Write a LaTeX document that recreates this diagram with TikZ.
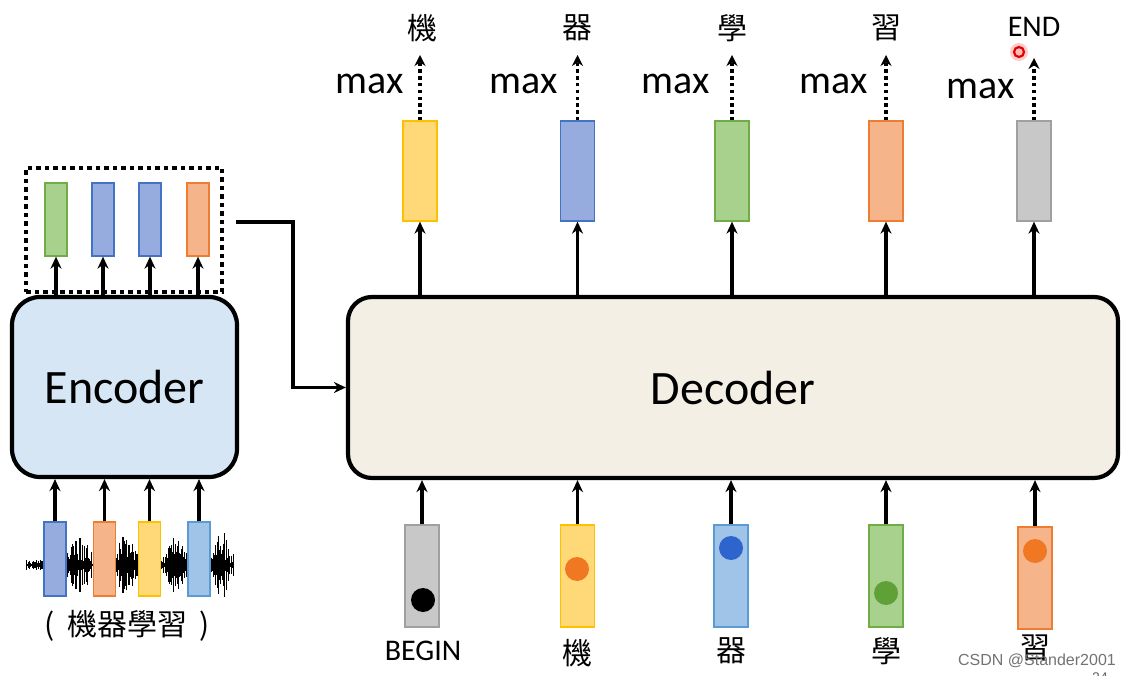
\documentclass[tikz,border=0pt]{standalone}
\usepackage{fontspec}
\setmainfont{Carlito}
\newfontfamily\cjk{Noto Sans CJK TC}
\newfontfamily\wmfont{Liberation Sans}
\usetikzlibrary{arrows.meta,calc}
\definecolor{gF}{RGB}{169,209,142}\definecolor{gD}{RGB}{112,173,71}
\definecolor{bF}{RGB}{150,172,222}\definecolor{bD}{RGB}{68,114,196}
\definecolor{oF}{RGB}{246,180,138}\definecolor{oD}{RGB}{237,125,49}
\definecolor{yF}{RGB}{255,217,120}\definecolor{yD}{RGB}{255,192,0}
\definecolor{kF}{RGB}{200,200,200}\definecolor{kD}{RGB}{160,160,160}
\definecolor{lF}{RGB}{160,196,232}\definecolor{lD}{RGB}{91,155,213}
\definecolor{encF}{RGB}{214,230,245}\definecolor{decF}{RGB}{244,239,228}
\definecolor{dotO}{RGB}{240,120,35}\definecolor{dotB}{RGB}{45,100,205}
\definecolor{dotG}{RGB}{95,160,55}
\tikzset{
  arr/.style={line width=3.6pt,-{Stealth[length=12pt,width=11pt]}},
  dotarr/.style={line width=3.4pt,dash pattern=on 3.4pt off 3.4pt,-{Stealth[length=11pt,width=11pt]}},
  bigbox/.style={draw,line width=4.2pt,rounded corners=28pt,inner sep=0pt,font=\fontsize{48}{50}\selectfont},
  bar/.style={draw=#1D,fill=#1F,line width=1.3pt,inner sep=0pt,minimum width=34pt,minimum height=100pt},
  sbar/.style={draw=#1D,fill=#1F,line width=1.3pt,inner sep=0pt,minimum width=22pt,minimum height=74pt},
  ebar/.style={draw=#1D,fill=#1F,line width=1.3pt,inner sep=0pt,minimum width=22pt,minimum height=73pt},
  dot/.style={circle,fill=#1,inner sep=0pt,minimum size=24pt},
  cjklab/.style={font=\cjk\fontsize{30}{32}\selectfont,inner sep=0pt},
  latlab/.style={font=\fontsize{30}{32}\selectfont,inner sep=0pt},
  maxlab/.style={font=\fontsize{40}{42}\selectfont,inner sep=0pt},
}
\begin{document}
\begin{tikzpicture}[x=1pt,y=-1pt]
\useasboundingbox[fill=white] (0,0) rectangle (1132,676);
% boxes
\node[bigbox,fill=encF,minimum width=225pt,minimum height=180pt] (enc) at (124.5,387) {Encoder};
\node[bigbox,fill=decF,minimum width=770pt,minimum height=181pt,rounded corners=24pt] (dec) at (733,387.5) {Decoder};
% encoder outputs
\node[draw,line width=4.5pt,dash pattern=on 4.5pt off 4pt,minimum width=196pt,minimum height=124pt,inner sep=0pt] (eobox) at (124,230) {};
\node[ebar=g] (eo1) at (56,219.5) {};
\node[ebar=b] (eo2) at (103,219.5) {};
\node[ebar=b] (eo3) at (150,219.5) {};
\node[ebar=o] (eo4) at (198,219.5) {};
\foreach \i in {1,...,4}{\draw[arr] (enc.north -| eo\i) -- (eo\i.south);}
\coordinate (c1) at (236,222);
\coordinate (bend) at (293,222);
\draw[arr] (c1) -- (bend) |- (dec.west);
% waveform
\pgfmathsetseed{5}
\draw[line width=1.6pt] (26,565) -- (234,565);
\foreach \x in {26,26.7,...,234}{
  \pgfmathsetmacro\env{0.22+exp(-((\x-80)/11)^2)+1.1*exp(-((\x-126)/9)^2)+0.9*exp(-((\x-176)/10)^2)+1.1*exp(-((\x-222)/9)^2)+0.6*exp(-((\x-100)/6)^2)}
  \pgfmathsetmacro\a{(1.5+24*rnd)*\env}
  \draw[line width=0.9pt] (\x,565-\a) -- (\x,565+\a);
}
\node[sbar=b] (ei1) at (55,559) {};
\node[sbar=o] (ei2) at (104.5,559) {};
\node[sbar=y] (ei3) at (149.5,559) {};
\node[sbar=l] (ei4) at (199,559) {};
\foreach \i in {1,...,4}{\draw[arr] (ei\i.north) -- (ei\i.north |- enc.south);}
\node[cjklab] (elab) at (127,626) {(\kern12pt 機器學習\kern12pt)};
% decoder outputs
\foreach \n/\c/\x in {1/y/420,2/b/577.5,3/g/732,4/o/886,5/k/1034}{
  \node[bar=\c] (o\n) at (\x,171) {};
  \draw[arr] (o\n.south |- dec.north) -- (o\n.south);
}
\coordinate (t1) at (420,55);
\coordinate (t2) at (577.5,55);
\coordinate (t3) at (732,55);
\coordinate (t4) at (886,55);
\coordinate (t5) at (1034,58);
\foreach \n in {1,...,5}{\draw[dotarr] (o\n.north) -- (t\n);}
\node[cjklab] (w1) at (422,28) {機};
\node[cjklab] (w2) at (577,28) {器};
\node[cjklab] (w3) at (732,28) {學};
\node[cjklab] (w4) at (886,28) {習};
\node[latlab] (w5) at (1034,27) {END};
\node[maxlab] (m1) at (370,84) {max};
\node[maxlab] (m2) at (524,84) {max};
\node[maxlab] (m3) at (676,84) {max};
\node[maxlab] (m4) at (834,84) {max};
\node[maxlab] (m5) at (981,89) {max};
% cursor mark
\node[circle,fill=red!20,inner sep=0pt,minimum size=18pt] (curglow) at (1019,52) {};
\node[circle,draw=red!90!black,fill=red!25,line width=2.2pt,minimum size=10pt,inner sep=0pt] (cur) at (1019,52) {};
% decoder inputs
\node[bar=k,minimum height=102pt] (i1) at (422,576) {};
\node[bar=y,minimum height=102pt] (i2) at (577.5,576) {};
\node[bar=l,minimum height=102pt] (i3) at (731,576) {};
\node[bar=g,minimum height=102pt] (i4) at (886,576) {};
\node[bar=o,minimum height=102pt] (i5) at (1035,578) {};
\node[dot=black] (d1) at (423,600) {};
\node[dot=dotO] (d2) at (577,569) {};
\node[dot=dotB] (d3) at (731,548) {};
\node[dot=dotG] (d4) at (886,593) {};
\node[dot=dotO] (d5) at (1035,551) {};
\foreach \n in {1,...,5}{\draw[arr] (i\n.north) -- (i\n.north |- dec.south);}
\node[latlab] (b1) at (423,651) {BEGIN};
\node[cjklab] (b2) at (577,653) {機};
\node[cjklab] (b3) at (731,651) {器};
\node[cjklab] (b4) at (886,651) {學};
\node[cjklab] (b5) at (1035,648) {習};
\node[font=\wmfont\fontsize{16}{17}\selectfont,text=black!55,inner sep=0pt] (wm) at (1037,661) {CSDN @Stander2001};
\node[font=\wmfont\fontsize{14}{14}\selectfont,text=black!60,inner sep=0pt] (pg) at (1100,678) {24};
\end{tikzpicture}
\end{document}
